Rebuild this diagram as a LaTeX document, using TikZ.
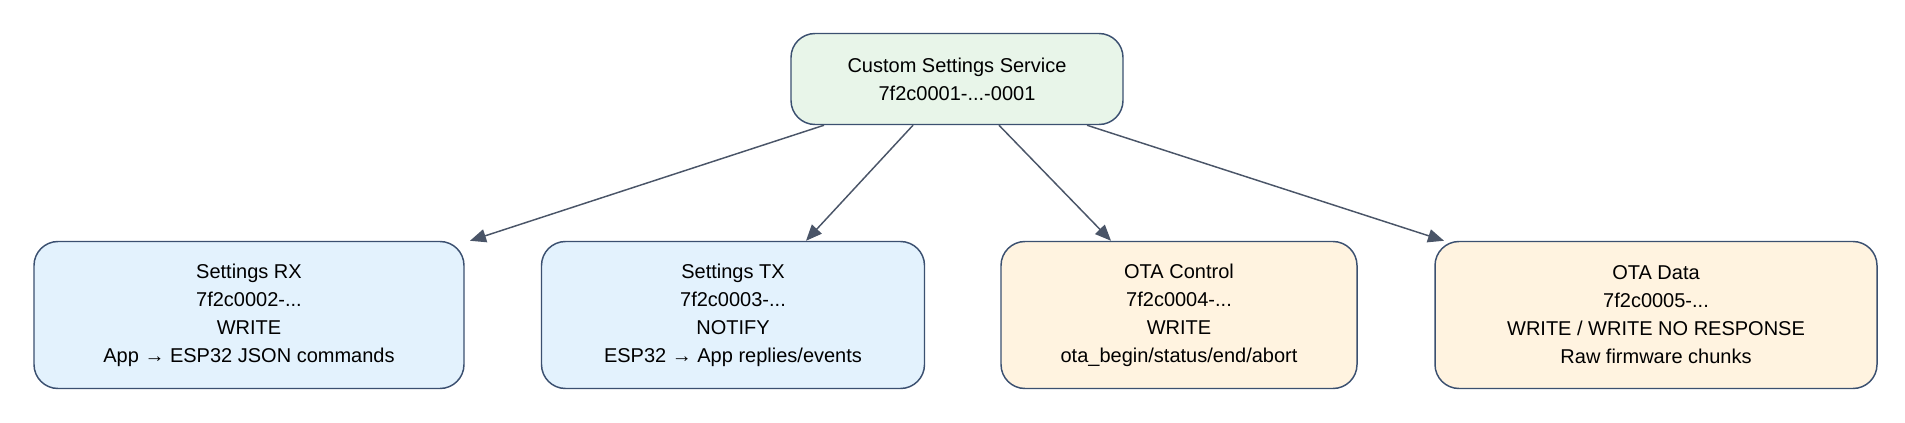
\documentclass[tikz,border=0pt]{standalone}
\usepackage{fontspec}
\setmainfont{Liberation Sans}
\usetikzlibrary{arrows.meta}
\definecolor{bd}{HTML}{3B5070}
\definecolor{ar}{HTML}{4A5568}
\definecolor{gfill}{HTML}{E8F5E9}
\definecolor{bfill}{HTML}{E3F2FD}
\definecolor{ofill}{HTML}{FFF3E0}
\begin{document}
\begin{tikzpicture}[x=0.75pt,y=-0.75pt,
  box/.style={draw=bd,line width=1.1pt,rounded corners=18pt,align=center,font=\fontsize{15}{21}\selectfont,inner sep=0pt},
  conn/.style={draw=ar,line width=1.1pt,-{Triangle[length=12pt,width=10pt]}}]
\useasboundingbox (0,0) rectangle (1905,422);
\node[box,fill=gfill,minimum width=332*0.75pt,minimum height=91*0.75pt] (top) at (957,79) {Custom Settings Service\\7f2c0001-...-0001};
\node[box,fill=bfill,minimum width=430*0.75pt,minimum height=147*0.75pt] (rx) at (249,315) {Settings RX\\7f2c0002-...\\WRITE\\App → ESP32 JSON commands};
\node[box,fill=bfill,minimum width=383*0.75pt,minimum height=147*0.75pt] (tx) at (733,315) {Settings TX\\7f2c0003-...\\NOTIFY\\ESP32 → App replies/events};
\node[box,fill=ofill,minimum width=356*0.75pt,minimum height=147*0.75pt] (ctl) at (1179,315) {OTA Control\\7f2c0004-...\\WRITE\\ota\_begin/status/end/abort};
\node[box,fill=ofill,minimum width=442*0.75pt,minimum height=147*0.75pt] (dat) at (1656,315) {OTA Data\\7f2c0005-...\\WRITE / WRITE NO RESPONSE\\Raw firmware chunks};
\draw[conn] ([xshift=-133*0.75pt]top.south) -- ([xshift=221*0.75pt]rx.north);
\draw[conn] ([xshift=-44*0.75pt]top.south) -- ([xshift=73*0.75pt]tx.north);
\draw[conn] ([xshift=42*0.75pt]top.south) -- ([xshift=-68*0.75pt]ctl.north);
\draw[conn] ([xshift=130*0.75pt]top.south) -- ([xshift=-212*0.75pt]dat.north);
\end{tikzpicture}
\end{document}
